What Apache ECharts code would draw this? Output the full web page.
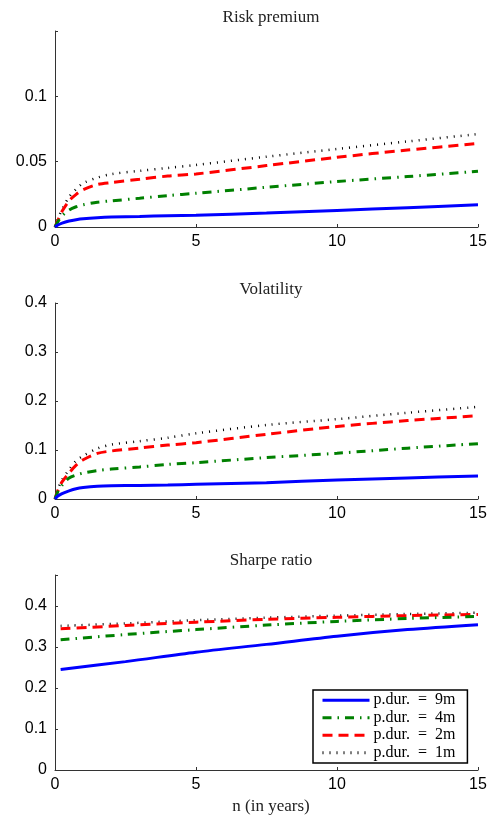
<!DOCTYPE html>
<html><head><meta charset="utf-8">
<script src="https://cdn.jsdelivr.net/npm/echarts@6/dist/echarts.min.js"></script>
<style>html,body{margin:0;padding:0;background:#fff}#c{width:494px;height:817px}</style>
</head><body><div id="c"></div>
<script>
// ---- data ----
const seriesNames = ['p.dur.  =  9m', 'p.dur.  =  4m', 'p.dur.  =  2m', 'p.dur.  =  1m'];
const xTicks = [0, 5, 10, 15];

const nGrid = [0, 0.1, 0.25, 0.5, 0.75, 1, 1.5, 2, 3, 4, 5, 7.5, 10, 12.5, 15];
// Risk premium
const rp9m = [0, 0.0015, 0.003, 0.0046, 0.0056, 0.0063, 0.0071, 0.0076, 0.0081, 0.0086, 0.0090, 0.0107, 0.0127, 0.0148, 0.0170];
const rp4m = [0, 0.004, 0.0085, 0.013, 0.0155, 0.017, 0.019, 0.0200, 0.0220, 0.0240, 0.0258, 0.0304, 0.0348, 0.0386, 0.0426];
const rp2m = [0, 0.005, 0.012, 0.020, 0.025, 0.0285, 0.0325, 0.0340, 0.0365, 0.0390, 0.0406, 0.0470, 0.0533, 0.0589, 0.0639];
const rp1m = [0, 0.006, 0.0135, 0.023, 0.029, 0.0335, 0.0378, 0.0405, 0.0430, 0.0452, 0.0475, 0.0538, 0.0597, 0.0655, 0.0711];
// Volatility
const vol9m = [0, 0.006, 0.011, 0.0166, 0.021, 0.0234, 0.026, 0.027, 0.0278, 0.0287, 0.0300, 0.0334, 0.0389, 0.0430, 0.0470];
const vol4m = [0, 0.015, 0.028, 0.043, 0.049, 0.053, 0.058, 0.061, 0.0655, 0.0705, 0.0742, 0.0845, 0.0934, 0.1037, 0.1130];
const vol2m = [0, 0.017, 0.035, 0.053, 0.069, 0.080, 0.093, 0.098, 0.104, 0.110, 0.115, 0.132, 0.148, 0.160, 0.170];
const vol1m = [0, 0.020, 0.039, 0.060, 0.078, 0.088, 0.103, 0.111, 0.118, 0.125, 0.134, 0.151, 0.163, 0.176, 0.188];
// Sharpe ratio
const nSharpe = [0.2, 2.5, 5, 7.5, 10, 12.5, 15];
const sr9m = [0.245, 0.264, 0.287, 0.306, 0.326, 0.342, 0.354];
const sr4m = [0.317, 0.330, 0.342, 0.353, 0.362, 0.369, 0.374];
const sr2m = [0.344, 0.352, 0.360, 0.367, 0.372, 0.376, 0.379];
const sr1m = [0.351, 0.357, 0.365, 0.371, 0.376, 0.380, 0.383];

const titles = ['Risk premium', 'Volatility', 'Sharpe ratio'];
const xName = 'n (in years)';

// ---- styling ----
const styles = [
  {color: '#0000ff', width: 3, type: 'solid'},
  {color: '#008000', width: 3, type: [9, 6, 1.5, 6]},
  {color: '#ff0000', width: 3, type: [10, 6]},
  {color: '#000000', width: 2.5, type: [1, 6]}
];
const zip = (xs, ys) => xs.map((x, i) => [x, ys[i]]);
const panels = [
  {x: nGrid, ys: [rp9m, rp4m, rp2m, rp1m]},
  {x: nGrid, ys: [vol9m, vol4m, vol2m, vol1m]},
  {x: nSharpe, ys: [sr9m, sr4m, sr2m, sr1m]}
];
const grids = [
  {left: 55, width: 423, top: 31, height: 196},
  {left: 55, width: 423, top: 303, height: 196},
  {left: 55, width: 423, top: 575, height: 195}
];
const yCfg = [
  {max: 0.15, interval: 0.05, lim: 0.1},
  {max: 0.4, interval: 0.1, lim: 0.4},
  {max: 0.475, interval: 0.1, lim: 0.4}
];
const sansLabel = {fontFamily: 'Liberation Sans', fontSize: 16, color: '#000'};
const axisLine = {show: true, lineStyle: {color: '#333', width: 1}};
const axisTick = {show: true, inside: true, length: 3, lineStyle: {color: '#333'}};

const series = [];
panels.forEach((p, gi) => {
  p.ys.forEach((ys, si) => {
    series.push({
      type: 'line', name: seriesNames[si], xAxisIndex: gi, yAxisIndex: gi,
      data: zip(p.x, ys), symbol: 'none', smooth: 0.3, animation: false,
      lineStyle: styles[si], itemStyle: {color: styles[si].color}, z: 10 - si
    });
  });
});

const option = {
  animation: false,
  title: titles.map((t, i) => ({
    text: t, left: 266, textAlign: 'center', top: [4, 276, 547][i],
    textStyle: {fontFamily: 'Liberation Serif', fontWeight: 'normal', fontSize: 17, color: '#222'}
  })).concat([{
    text: xName, left: 266, textAlign: 'center', top: 793,
    textStyle: {fontFamily: 'Liberation Serif', fontWeight: 'normal', fontSize: 17, color: '#222'}
  }]),
  grid: grids,
  xAxis: grids.map((g, i) => ({
    type: 'value', gridIndex: i, min: 0, max: 15, interval: 5,
    axisLine, axisTick, splitLine: {show: false},
    axisLabel: Object.assign({margin: 7}, sansLabel)
  })),
  yAxis: grids.map((g, i) => ({
    type: 'value', gridIndex: i, min: 0, max: yCfg[i].max, interval: yCfg[i].interval,
    axisLine, axisTick, splitLine: {show: false},
    axisLabel: Object.assign({margin: 8, formatter: v => v > yCfg[i].lim + 1e-9 ? '' : String(+v.toFixed(3))}, sansLabel)
  })),
  legend: {
    data: seriesNames, orient: 'vertical', left: 313, top: 690,
    itemWidth: 47, itemHeight: 8, itemGap: 1,
    itemStyle: {opacity: 0},
    lineStyle: {width: 3},
    padding: [2, 12, 2, 8], borderColor: '#000', borderWidth: 1.5, backgroundColor: '#fff',
    textStyle: {fontFamily: 'Liberation Serif', fontSize: 16, lineHeight: 16.5, color: '#000', padding: [0, 0, 0, -1]},
    selectedMode: false
  },
  series
};
const chart = echarts.init(document.getElementById('c'), null, {renderer: 'canvas'});
chart.setOption(option);
</script></body></html>
